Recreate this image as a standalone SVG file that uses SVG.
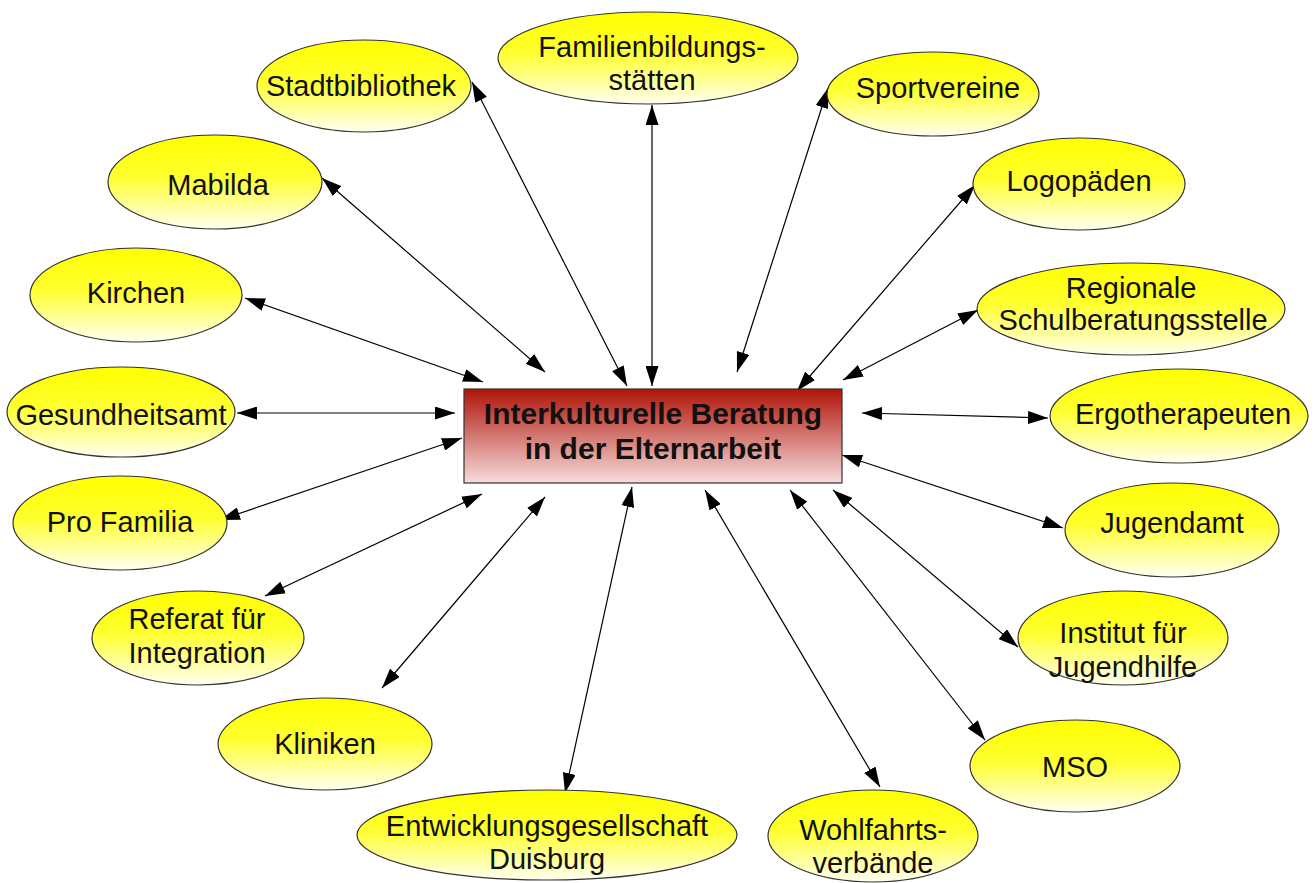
<svg xmlns="http://www.w3.org/2000/svg" width="1316" height="883" viewBox="0 0 1316 883">
<style>
.n ellipse{fill:url(#yg);stroke:#333;stroke-width:1.2}
.n text{font-family:"Liberation Sans",Arial,sans-serif;font-size:29px;fill:#111;text-anchor:middle}
.c line{stroke:#000;stroke-width:1.2;marker-start:url(#ah);marker-end:url(#ah)}
.ctr text{font-family:"Liberation Sans",Arial,sans-serif;font-size:30px;font-weight:bold;fill:#111;text-anchor:middle}
</style>
<defs>
<linearGradient id="yg" x1="0" y1="0" x2="0" y2="1">
<stop offset="0" stop-color="#ffff00"/>
<stop offset="0.45" stop-color="#ffff30"/>
<stop offset="1" stop-color="#fffff2"/>
</linearGradient>
<linearGradient id="rg" x1="0" y1="0" x2="0" y2="1">
<stop offset="0" stop-color="#b01408"/>
<stop offset="1" stop-color="#f6dcdc"/>
</linearGradient>
<marker id="ah" viewBox="0 0 20 13" markerUnits="userSpaceOnUse" markerWidth="20" markerHeight="13" refX="20" refY="6.5" orient="auto-start-reverse">
<path d="M0,0 L20,6.5 L0,13 z" fill="#000"/>
</marker>
</defs>
<rect width="1316" height="883" fill="#fff"/>
<g class="c">
<line x1="627" y1="386" x2="472" y2="82"/>
<line x1="652" y1="386" x2="652" y2="105"/>
<line x1="737" y1="372" x2="828" y2="88"/>
<line x1="797" y1="391" x2="975" y2="185"/>
<line x1="843" y1="380" x2="978" y2="310"/>
<line x1="862" y1="413" x2="1048" y2="418"/>
<line x1="842" y1="455" x2="1063" y2="528"/>
<line x1="833" y1="490" x2="1018" y2="647"/>
<line x1="790" y1="490" x2="985" y2="740"/>
<line x1="705" y1="490" x2="880" y2="787"/>
<line x1="632" y1="487" x2="565" y2="793"/>
<line x1="545" y1="497" x2="382" y2="688"/>
<line x1="482" y1="494" x2="265" y2="596"/>
<line x1="462" y1="438" x2="220" y2="520"/>
<line x1="455" y1="413" x2="237" y2="413"/>
<line x1="483" y1="382" x2="245" y2="298"/>
<line x1="545" y1="372" x2="322" y2="178"/>
</g>
<g id="center" class="ctr">
<rect x="464" y="389" width="378" height="94" fill="url(#rg)" stroke="#333" stroke-width="1.2"/>
<text x="653" y="424">Interkulturelle Beratung</text>
<text x="653" y="459">in der Elternarbeit</text>
</g>
<g id="stadtbibliothek" class="n"><ellipse cx="364" cy="86" rx="107" ry="46"/><text x="361" y="96">Stadtbibliothek</text></g>
<g id="familienbildung" class="n"><ellipse cx="648" cy="58" rx="150" ry="46"/><text x="652" y="57">Familienbildungs-</text><text x="652" y="90">stätten</text></g>
<g id="sportvereine" class="n"><ellipse cx="933" cy="94" rx="106" ry="42"/><text x="938" y="98">Sportvereine</text></g>
<g id="mabilda" class="n"><ellipse cx="215" cy="182" rx="107" ry="47"/><text x="218" y="195">Mabilda</text></g>
<g id="logopaeden" class="n"><ellipse cx="1079" cy="184" rx="106" ry="46"/><text x="1079" y="191">Logopäden</text></g>
<g id="kirchen" class="n"><ellipse cx="136" cy="295" rx="106" ry="47"/><text x="136" y="303">Kirchen</text></g>
<g id="regionale" class="n"><ellipse cx="1131" cy="309" rx="154" ry="46"/><text x="1131" y="298">Regionale</text><text x="1133" y="330">Schulberatungsstelle</text></g>
<g id="gesundheitsamt" class="n"><ellipse cx="121" cy="412" rx="114" ry="45"/><text x="121" y="425">Gesundheitsamt</text></g>
<g id="ergotherapeuten" class="n"><ellipse cx="1179" cy="416" rx="129" ry="47"/><text x="1183" y="424">Ergotherapeuten</text></g>
<g id="profamilia" class="n"><ellipse cx="120" cy="523" rx="107" ry="47"/><text x="120" y="532">Pro Familia</text></g>
<g id="jugendamt" class="n"><ellipse cx="1172" cy="530" rx="107" ry="47"/><text x="1172" y="533">Jugendamt</text></g>
<g id="referat" class="n"><ellipse cx="198" cy="638" rx="106" ry="47"/><text x="197" y="629">Referat für</text><text x="197" y="663">Integration</text></g>
<g id="institut" class="n"><ellipse cx="1123" cy="638" rx="105" ry="47"/><text x="1123" y="643">Institut für</text><text x="1123" y="677">Jugendhilfe</text></g>
<g id="kliniken" class="n"><ellipse cx="325" cy="744" rx="107" ry="46"/><text x="325" y="754">Kliniken</text></g>
<g id="mso" class="n"><ellipse cx="1075" cy="766" rx="105" ry="46"/><text x="1075" y="777">MSO</text></g>
<g id="entwicklung" class="n"><ellipse cx="547" cy="835" rx="190" ry="45"/><text x="547" y="836">Entwicklungsgesellschaft</text><text x="547" y="869">Duisburg</text></g>
<g id="wohlfahrt" class="n"><ellipse cx="873" cy="836" rx="105" ry="46"/><text x="873" y="840">Wohlfahrts-</text><text x="873" y="873">verbände</text></g>
</svg>
